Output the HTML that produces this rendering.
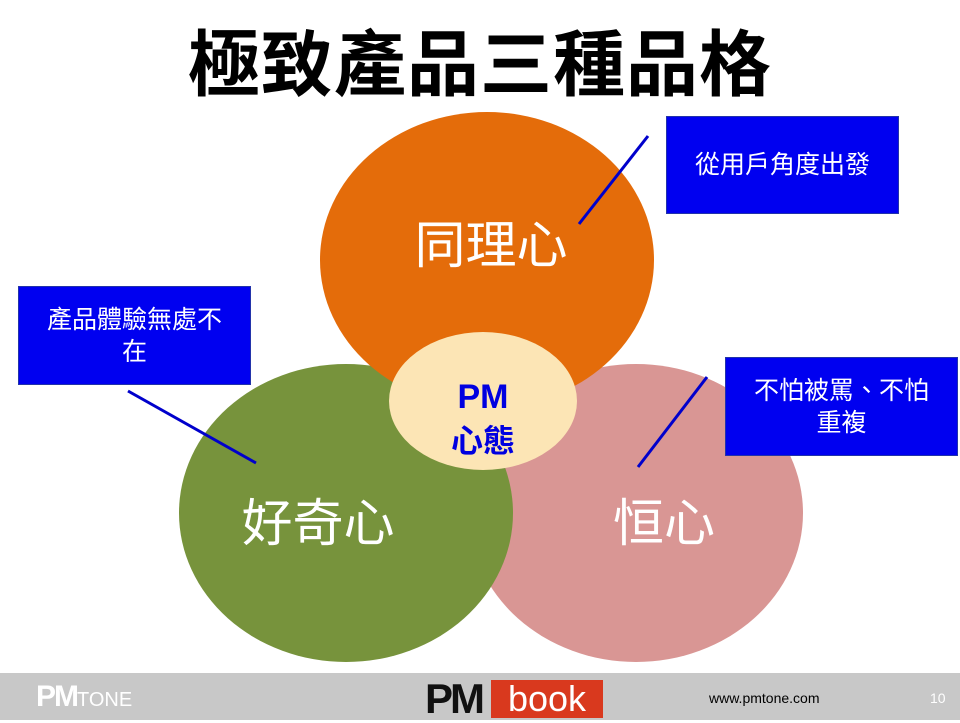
<!DOCTYPE html>
<html><head><meta charset="utf-8"><style>
body{margin:0;width:960px;height:720px;background:#fff;position:relative;overflow:hidden;font-family:"Liberation Sans","Noto Sans CJK TC",sans-serif}
.t{position:absolute;left:0;width:960px;top:6px;text-align:center;font-size:72px;font-weight:bold;letter-spacing:1px;color:#000}
.box{position:absolute;background:#0000f0;border:1px solid #2233aa;color:#fff;font-size:25px;line-height:32px;text-align:center;box-sizing:border-box}
.foot{position:absolute;left:0;top:673px;width:960px;height:47px;background:#c8c8c8}
</style></head><body>
<div class="t">極致產品三種品格</div>
<svg width="960" height="720" style="position:absolute;left:0;top:0">
<ellipse cx="636" cy="513" rx="167" ry="149" fill="#d99694"/>
<ellipse cx="346" cy="513" rx="167" ry="149" fill="#77933c"/>
<ellipse cx="487" cy="260" rx="167" ry="148" fill="#e46c0a"/>
<ellipse cx="483" cy="401" rx="94" ry="69" fill="#fce5b5"/>
<g font-family="Liberation Sans,Noto Sans CJK TC,sans-serif" fill="#fff" font-size="51" text-anchor="middle">
<text x="491" y="263">同理心</text>
<text x="318" y="541">好奇心</text>
<text x="664" y="541">恒心</text>
</g>
<g font-family="Liberation Sans,Noto Sans CJK TC,sans-serif" fill="#0000e0" font-size="34" font-weight="bold" text-anchor="middle">
<text x="483" y="408">PM</text>
<text x="483" y="452" font-size="32">心態</text>
</g>
<g stroke="#0000cc" stroke-width="3">
<line x1="648" y1="136" x2="579" y2="224"/>
<line x1="128" y1="391" x2="256" y2="463"/>
<line x1="707" y1="377" x2="638" y2="467"/>
</g>
</svg>
<div class="box" style="left:666px;top:116px;width:233px;height:98px;padding-top:32px">從用戶角度出發</div>
<div class="box" style="left:18px;top:286px;width:233px;height:99px;padding-top:17px">產品體驗無處不<br>在</div>
<div class="box" style="left:725px;top:357px;width:233px;height:99px;padding-top:17px">不怕被罵、不怕<br>重複</div>
<div class="foot"></div>
<div style="position:absolute;left:36px;top:680px;font-size:30px;font-weight:bold;color:#fff;letter-spacing:-2px">PM<span style="font-size:20px;font-weight:normal;letter-spacing:0">TONE</span></div>
<div style="position:absolute;left:425px;top:675px;font-size:42px;font-weight:bold;color:#111;letter-spacing:-3px">PM</div>
<div style="position:absolute;left:491px;top:680px;width:112px;height:38px;background:#d9391e;color:#fff;font-size:36px;line-height:38px;text-align:center">book</div>
<div style="position:absolute;left:709px;top:690px;font-size:14px;color:#000">www.pmtone.com</div>
<div style="position:absolute;left:930px;top:690px;font-size:14px;color:#fff">10</div>
</body></html>
